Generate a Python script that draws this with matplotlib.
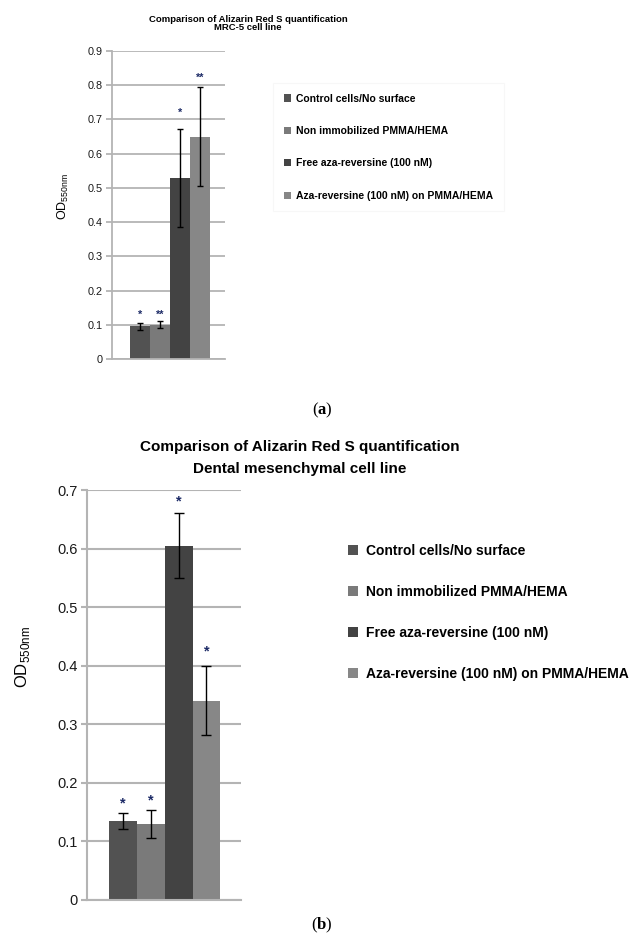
import matplotlib

matplotlib.use("Agg")
import matplotlib.pyplot as plt
from matplotlib.patches import Patch

plt.rcParams["font.family"] = ["Liberation Sans", "DejaVu Sans"]
plt.rcParams["mathtext.fontset"] = "custom"
plt.rcParams["mathtext.rm"] = "Liberation Serif"
plt.rcParams["mathtext.bf"] = "Liberation Serif:bold"

LABELS = [
    "Control cells/No surface",
    "Non immobilized PMMA/HEMA",
    "Free aza-reversine (100 nM)",
    "Aza-reversine (100 nM) on PMMA/HEMA",
]
COLORS = ["#525252", "#7a7a7a", "#434343", "#878787"]

# panel (a): MRC-5
MRC5_MEAN = [0.095, 0.10, 0.53, 0.65]
MRC5_ERR = [0.01, 0.01, 0.143, 0.145]
MRC5_STAR_Y = [0.13, 0.13, 0.72, 0.82]
MRC5_STARS = ["*", "**", "*", "**"]
MRC5_TICKS = [0, 0.1, 0.2, 0.3, 0.4, 0.5, 0.6, 0.7, 0.8, 0.9]

# panel (b): dental mesenchymal
DENT_MEAN = [0.135, 0.13, 0.605, 0.34]
DENT_ERR = [0.013, 0.024, 0.056, 0.059]
DENT_STAR_Y = [0.165, 0.17, 0.68, 0.425]
DENT_STARS = ["*", "*", "*", "*"]
DENT_TICKS = [0, 0.1, 0.2, 0.3, 0.4, 0.5, 0.6, 0.7]

GRID = "#b4b4b4"
STAR = "#1c2a66"


def tick_fmt(v):
    return "0" if v == 0 else f"{v:.1f}"


def draw_panel(ax, means, errs, star_y, stars, ticks, xlim, fs, cap, lw_grid):
    x = range(len(means))
    ax.bar(x, means, width=1.0, color=COLORS, zorder=2)
    ax.errorbar(x, means, yerr=errs, fmt="none", ecolor="black",
                elinewidth=1.0, capsize=cap, capthick=1.0, zorder=3)
    for xi, yi, s in zip(x, star_y, stars):
        ax.text(xi, yi, s, ha="center", va="center", color=STAR,
                fontsize=fs, fontweight="bold")
    ax.set_xlim(*xlim)
    ax.set_ylim(0, ticks[-1])
    ax.set_yticks(ticks)
    ax.set_yticklabels([tick_fmt(t) for t in ticks], fontsize=fs)
    ax.set_xticks([])
    ax.grid(axis="y", color=GRID, linewidth=lw_grid, zorder=0)
    for side in ["top", "right"]:
        ax.spines[side].set_visible(False)
    for side in ["left", "bottom"]:
        ax.spines[side].set_color(GRID)
        ax.spines[side].set_linewidth(lw_grid)
    ax.tick_params(axis="y", colors=GRID, length=4, width=lw_grid, pad=3,
                   labelcolor="#1a1a1a")


fig = plt.figure(figsize=(6.3, 9.42), dpi=100)
handles = [Patch(facecolor=c, edgecolor="none") for c in COLORS]

# ---- (a)
ax1 = fig.add_axes([0.1778, 0.6189, 0.1794, 0.327])
draw_panel(ax1, MRC5_MEAN, MRC5_ERR, MRC5_STAR_Y, MRC5_STARS, MRC5_TICKS,
           (-1.4, 4.25), 7.8, 2.5, 1.3)
fig.text(248 / 630, 1 - 19 / 942, "Comparison of Alizarin Red S quantification",
         ha="center", va="center", fontsize=6.8, fontweight="bold")
fig.text(248 / 630, 1 - 28 / 942, "MRC-5 cell line",
         ha="center", va="center", fontsize=6.8, fontweight="bold")
fig.text(63 / 630, 1 - 196 / 942, r"OD$_{\mathregular{550nm}}$",
         rotation=90, ha="center", va="center", fontsize=9)
leg1 = fig.legend(handles, LABELS, loc="upper left",
                  bbox_to_anchor=(268 / 630, 1 - 78 / 942),
                  prop={"size": 7.5, "weight": "bold"},
                  handlelength=0.7, handleheight=0.7, handletextpad=0.5,
                  labelspacing=2.15, borderpad=1.0, frameon=True, fancybox=False)
leg1.get_frame().set_edgecolor("#f6f6f6")
leg1.get_frame().set_linewidth(0.8)
fig.text(322 / 630, 1 - 410 / 942, r"($\mathbf{a}$)", ha="center", va="center",
         fontsize=12, family="Liberation Serif")

# ---- (b)
ax2 = fig.add_axes([0.1386, 0.0446, 0.2435, 0.4352])
draw_panel(ax2, DENT_MEAN, DENT_ERR, DENT_STAR_Y, DENT_STARS, DENT_TICKS,
           (-1.28, 4.23), 10.5, 3.5, 1.5)
fig.text(300 / 630, 1 - 447 / 942, "Comparison of Alizarin Red S quantification",
         ha="center", va="center", fontsize=11, fontweight="bold")
fig.text(300 / 630, 1 - 469 / 942, "Dental mesenchymal cell line",
         ha="center", va="center", fontsize=11, fontweight="bold")
fig.text(22 / 630, 1 - 657 / 942, r"OD$_{\mathregular{550nm}}$",
         rotation=90, ha="center", va="center", fontsize=12)
leg2 = fig.legend(handles, LABELS, loc="upper left",
                  bbox_to_anchor=(334 / 630, 1 - 530 / 942),
                  prop={"size": 10, "weight": "bold"},
                  handlelength=0.7, handleheight=0.7, handletextpad=0.6,
                  labelspacing=1.95, borderpad=0.5, frameon=False)
fig.text(322 / 630, 1 - 925 / 942, r"($\mathbf{b}$)", ha="center", va="center",
         fontsize=12, family="Liberation Serif")

fig.savefig("out.png", dpi=100)
plt.close(fig)
